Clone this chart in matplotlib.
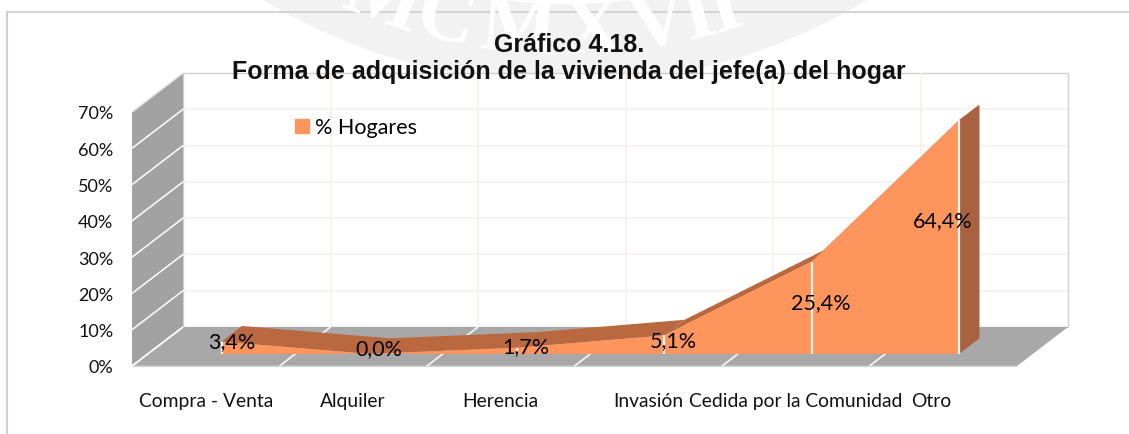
import numpy as np
import matplotlib
matplotlib.use("Agg")
import matplotlib.pyplot as plt
from matplotlib.patches import Patch, Polygon, Circle
from matplotlib.transforms import IdentityTransform, ScaledTranslation

categories = ["Compra - Venta", "Alquiler", "Herencia", "Invasión", "Cedida por la Comunidad", "Otro"]
hogares = [3.4, 0.0, 1.7, 5.1, 25.4, 64.4]
value_labels = ["3,4%", "0,0%", "1,7%", "5,1%", "25,4%", "64,4%"]
y_ticks = [0, 10, 20, 30, 40, 50, 60, 70]
y_tick_labels = ["0%", "10%", "20%", "30%", "40%", "50%", "60%", "70%"]
label_offsets = [(10, 0), (10, 6), (9, 2), (9, -5), (9, -40), (-16, -100)]

W, H = 1129, 435
DEPTH_X, DEPTH_Y = 51, 39
FRONT, BACK = 0.31, 0.71

plt.rcParams["font.family"] = ["Lato", "DejaVu Sans"]

fig = plt.figure(figsize=(W / 100, H / 100), dpi=100)
ax = fig.add_axes([132 / W, (H - 367) / H, 885 / W, 254 / H])
ax.set_xlim(-0.5, 5.5)
ax.set_ylim(0, 70)
ax.patch.set_visible(False)
for s in ax.spines.values():
    s.set_visible(False)


def at(x, v, d=0.0):
    # point on the chart plane, pushed back by depth d (pixels)
    px = ax.transData.transform((x, v))
    return px[0] + DEPTH_X * d, px[1] + DEPTH_Y * d


def poly(points, color, z, **kw):
    ax.add_patch(Polygon(points, closed=True, facecolor=color, edgecolor=kw.pop("edge", "none"),
                         transform=IdentityTransform(), zorder=z, clip_on=False, **kw))


def seg(p, q, color, lw, z):
    ax.plot([p[0], q[0]], [p[1], q[1]], color=color, lw=lw, transform=IdentityTransform(),
            zorder=z, clip_on=False, solid_capstyle="butt")


# faint watermark behind everything
bg = fig.add_axes([0, 0, 1, 1], zorder=-1)
bg.set_xlim(0, W)
bg.set_ylim(H, 0)
bg.axis("off")
cx, cy = 565, -500
bg.add_patch(Circle((cx, cy), 585, fc="#f2f2f2", ec="none"))
bg.add_patch(Circle((cx, cy), 505, fc="white", ec="none"))
for letter, ang in zip("MCMXVII", [20, 13, 5, -3, -10, -14.5, -17.5]):
    rad = np.radians(ang)
    bg.text(cx - 534 * np.sin(rad), cy + 534 * np.cos(rad), letter, rotation=-ang, fontsize=58,
            fontweight="bold", color="white", ha="center", va="center", family="Liberation Serif")
bg.plot([7, W], [13, 13], color="#d4d4d4", lw=1.5)
bg.plot([7, 7], [13, H], color="#d0d0d0", lw=1.5)

# back wall
xl, xr = ax.get_xlim()
poly([at(xl, 0, 1), at(xr, 0, 1), at(xr, 70, 1), at(xl, 70, 1)], "white", 1, edge="#d2cfcc", lw=1)
for t in y_ticks[1:-1]:
    seg(at(xl, t, 1), at(xr, t, 1), "#f3f2f1", 1.2, 1.5)
for b in np.arange(xl + 1, xr):
    seg(at(b, 0, 1), at(b, 70, 1), "#faf0ea", 1.2, 1.5)

# side wall and floor
poly([at(xl, 0), at(xl, 70), at(xl, 70, 1), at(xl, 0, 1)], "#a2a2a2", 2)
poly([at(xl, 0), at(xr, 0), at(xr, 0, 1), at(xl, 0, 1)], "#a8a8a8", 2)
seg(at(xl, 0), at(xr, 0), "#c4c4c4", 1.2, 2.2)
for t in y_ticks:
    seg(at(xl, t), at(xl, t, 1), "white" if t < 70 else "#e6e6e6", 1.1, 2.5)
for b in np.arange(xl, xr):
    seg(at(b, 0), at(b, 0, 1), "white", 1.1, 2.5)

# area ribbon
xs = np.arange(len(hogares))
for i in range(len(xs) - 1):
    poly([at(xs[i], hogares[i], FRONT), at(xs[i + 1], hogares[i + 1], FRONT),
          at(xs[i + 1], hogares[i + 1], BACK), at(xs[i], hogares[i], BACK)], "#b9683f", 3)
poly([at(xs[-1], hogares[-1], FRONT), at(xs[-1], hogares[-1], BACK),
      at(xs[-1], 0, BACK), at(xs[-1], 0, FRONT)], "#a9623f", 3)
front = [at(x, v, FRONT) for x, v in zip(xs, hogares)]
poly(front + [at(xs[-1], 0, FRONT), at(xs[0], 0, FRONT)], "#fd955c", 4)
for x, v in zip(xs, hogares):
    seg(at(x, 0, FRONT), at(x, v, FRONT), "#fff6ef", 1.6, 4.5)

# value labels
for x, v, txt, off in zip(xs, hogares, value_labels, label_offsets):
    px, py = at(x, v, FRONT)
    ax.text(px + off[0], py + off[1], txt, transform=IdentityTransform(), fontsize=15.5, color="black",
            ha="center", va="center", zorder=6, clip_on=False)

ax.set_xticks(xs, categories)
ax.set_yticks(y_ticks, y_tick_labels)
ax.tick_params(axis="x", length=0, pad=19, labelsize=13.9, labelcolor="#111111")
ax.tick_params(axis="y", length=0, pad=13.5, labelsize=13, labelcolor="#111111")
last = ax.get_xticklabels()[-1]
last.set_transform(last.get_transform() + ScaledTranslation(-12 / 100, 0, fig.dpi_scale_trans))

leg = ax.legend(handles=[Patch(color="#fd955c", label="% Hogares")], loc="upper left",
                bbox_to_anchor=(291 / W, (H - 114) / H), bbox_transform=fig.transFigure,
                frameon=False, fontsize=15.5, handlelength=0.65, handleheight=0.65, handletextpad=0.25,
                borderpad=0.2, borderaxespad=0)
leg.set_zorder(7)

fig.text(569.5 / W, 1 - 45 / H, "Gráfico 4.18.", ha="center", va="center", fontsize=18,
         fontweight="bold", family="Liberation Sans", color="#111111", zorder=10)
fig.text(569 / W, 1 - 72 / H, "Forma de adquisición de la vivienda del jefe(a) del hogar", ha="center",
         va="center", fontsize=18, fontweight="bold", family="Liberation Sans", color="#111111", zorder=10)

fig.savefig("out.png", dpi=100)
